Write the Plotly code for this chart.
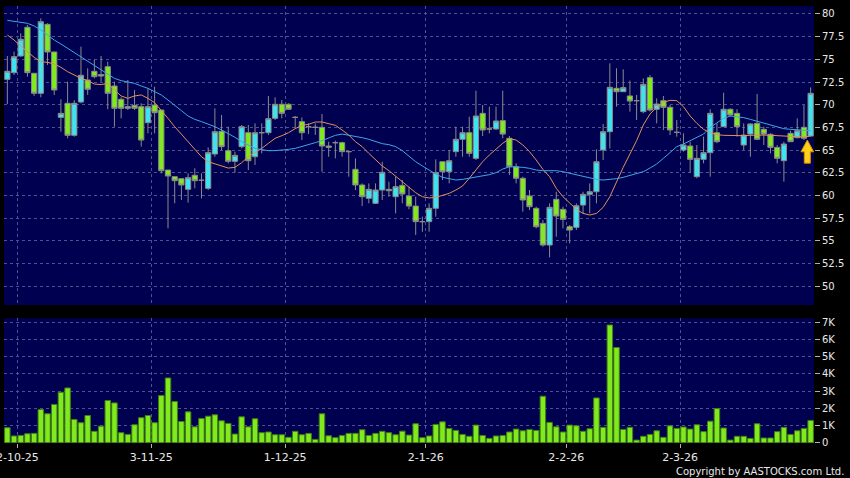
import plotly.graph_objects as go

# ---------------- data (HK trading days) ----------------
dates = [
    "2025-09-30",
    "2025-10-02", "2025-10-03", "2025-10-06", "2025-10-08", "2025-10-09", "2025-10-10",
    "2025-10-13", "2025-10-14", "2025-10-15", "2025-10-16", "2025-10-17", "2025-10-20",
    "2025-10-21", "2025-10-22", "2025-10-23", "2025-10-24", "2025-10-27", "2025-10-28",
    "2025-10-30", "2025-10-31",
    "2025-11-03", "2025-11-04", "2025-11-05", "2025-11-06", "2025-11-07", "2025-11-10",
    "2025-11-11", "2025-11-12", "2025-11-13", "2025-11-14", "2025-11-17", "2025-11-18",
    "2025-11-19", "2025-11-20", "2025-11-21", "2025-11-24", "2025-11-25", "2025-11-26",
    "2025-11-27", "2025-11-28",
    "2025-12-01", "2025-12-02", "2025-12-03", "2025-12-04", "2025-12-05", "2025-12-08",
    "2025-12-09", "2025-12-10", "2025-12-11", "2025-12-12", "2025-12-15", "2025-12-16",
    "2025-12-17", "2025-12-18", "2025-12-19", "2025-12-22", "2025-12-23", "2025-12-24",
    "2025-12-29", "2025-12-30", "2025-12-31",
    "2026-01-02", "2026-01-05", "2026-01-06", "2026-01-07", "2026-01-08", "2026-01-09",
    "2026-01-12", "2026-01-13", "2026-01-14", "2026-01-15", "2026-01-16", "2026-01-19",
    "2026-01-20", "2026-01-21", "2026-01-22", "2026-01-23", "2026-01-26", "2026-01-27",
    "2026-01-28", "2026-01-29", "2026-01-30",
    "2026-02-02", "2026-02-03", "2026-02-04", "2026-02-05", "2026-02-06", "2026-02-09",
    "2026-02-10", "2026-02-11", "2026-02-12", "2026-02-13", "2026-02-16", "2026-02-20",
    "2026-02-23", "2026-02-24", "2026-02-25", "2026-02-26", "2026-02-27",
    "2026-03-02", "2026-03-03", "2026-03-04", "2026-03-05", "2026-03-06", "2026-03-09",
    "2026-03-10", "2026-03-11", "2026-03-12", "2026-03-13", "2026-03-16", "2026-03-17",
    "2026-03-18", "2026-03-19", "2026-03-20", "2026-03-23", "2026-03-24", "2026-03-25",
    "2026-03-26", "2026-03-27", "2026-03-30",
]

open_ = [
    72.79, 73.53, 75.37, 78.53, 73.46, 71.25, 78.86, 75.81, 68.60, 70.15,
    66.62, 70.29, 72.72, 73.68, 73.16, 74.19, 72.06, 70.59, 69.60, 69.93,
    69.78, 68.01, 69.96, 69.41, 62.79, 62.06, 61.84, 60.66, 62.21, 61.66,
    60.77, 64.56, 67.06, 64.93, 63.75, 65.37, 66.91, 64.26, 66.91, 66.91,
    68.49, 70.04, 70.04, 68.60, 68.13, 67.57, 67.50, 67.50, 65.44, 65.81,
    65.81, 64.82, 62.87, 61.14, 59.67, 59.12, 60.59, 60.66, 59.85, 61.10,
    59.93, 58.82, 57.10, 57.10, 58.57, 63.71, 62.61, 64.82, 66.18, 66.91,
    64.08, 69.04, 67.32, 67.32, 68.24, 66.29, 63.16, 61.88, 59.93, 58.57,
    56.91, 54.52, 59.56, 58.46, 56.54, 56.47, 58.93, 60.11, 60.40, 65.00,
    67.02, 71.80, 71.43, 70.96, 70.44, 69.23, 72.98, 69.49, 70.44, 69.71,
    66.95, 65.00, 65.44, 62.06, 63.97, 64.71, 66.91, 67.57, 69.49, 69.04,
    65.55, 66.76, 67.94, 67.28, 66.73, 65.29, 63.82, 66.84, 66.36, 67.50,
    66.54,
]
high = [
    75.37, 75.85, 77.87, 78.79, 73.46, 79.52, 78.97, 75.81, 70.59, 72.54,
    70.51, 76.40, 74.01, 74.93, 75.37, 74.74, 72.54, 70.81, 72.72, 71.62,
    70.15, 71.80, 71.99, 69.41, 62.79, 62.06, 61.84, 62.43, 62.98, 62.43,
    65.29, 69.60, 68.86, 67.57, 64.82, 67.76, 67.76, 67.94, 67.94, 70.96,
    70.81, 70.51, 70.15, 68.75, 68.60, 67.94, 67.94, 68.97, 65.92, 66.03,
    65.92, 64.90, 64.08, 61.32, 61.32, 61.32, 63.71, 61.51, 62.06, 61.69,
    60.96, 59.85, 57.65, 59.12, 63.97, 63.71, 65.00, 67.57, 67.57, 68.68,
    71.54, 69.96, 69.78, 69.78, 71.54, 66.54, 63.53, 62.06, 60.59, 58.75,
    57.28, 59.12, 60.40, 58.75, 56.73, 59.12, 60.40, 61.32, 65.07, 67.87,
    74.56, 74.01, 73.90, 72.65, 71.07, 72.90, 73.27, 70.70, 70.96, 69.96,
    68.31, 66.84, 65.92, 65.55, 66.47, 69.49, 67.94, 71.32, 69.60, 69.49,
    67.94, 67.94, 71.18, 67.57, 66.84, 65.55, 65.92, 67.13, 68.49, 69.96,
    71.91,
]
low = [
    70.07, 73.27, 75.29, 73.09, 70.96, 70.81, 74.38, 71.07, 67.02, 66.29,
    66.47, 70.15, 71.07, 72.90, 72.54, 69.49, 67.57, 68.49, 69.41, 69.41,
    65.37, 66.84, 66.84, 62.43, 56.36, 59.12, 59.49, 59.19, 60.77, 59.67,
    60.59, 64.26, 65.00, 63.53, 62.50, 65.18, 62.79, 63.35, 64.63, 66.65,
    68.31, 68.49, 69.41, 67.39, 66.10, 66.76, 66.65, 62.61, 64.26, 64.08,
    64.26, 62.06, 60.59, 58.82, 59.12, 59.04, 59.49, 59.85, 58.01, 59.12,
    58.46, 55.63, 55.99, 55.99, 57.65, 61.69, 61.32, 64.26, 64.26, 64.26,
    63.90, 66.54, 66.84, 67.21, 66.29, 62.24, 61.32, 58.20, 58.38, 56.36,
    54.34, 53.16, 55.44, 56.36, 54.71, 56.18, 58.01, 58.01, 59.12, 63.90,
    65.18, 69.78, 71.43, 69.23, 68.31, 69.04, 69.23, 67.94, 67.21, 66.65,
    66.47, 64.82, 62.50, 61.88, 63.53, 62.06, 65.74, 67.57, 68.68, 66.47,
    65.00, 64.26, 66.10, 65.55, 64.63, 63.53, 61.51, 65.92, 66.29, 66.10,
    66.54,
]
close = [
    73.68, 75.29, 77.21, 73.53, 71.25, 79.15, 75.81, 71.62, 69.04, 66.62,
    70.15, 73.24, 71.69, 73.09, 73.31, 71.25, 69.60, 69.60, 69.78, 69.60,
    66.10, 69.78, 69.12, 62.72, 62.13, 61.62, 61.14, 61.95, 61.62, 61.66,
    64.71, 67.02, 65.37, 63.75, 64.41, 67.57, 63.82, 66.91, 66.91, 68.46,
    70.04, 69.04, 69.49, 68.60, 66.91, 67.57, 67.50, 65.44, 65.30, 65.81,
    64.82, 64.82, 61.14, 59.85, 60.66, 60.59, 62.54, 60.51, 60.96, 60.15,
    58.82, 57.10, 57.10, 58.57, 62.50, 62.61, 63.82, 66.18, 66.91, 64.63,
    68.75, 67.21, 67.32, 68.20, 66.76, 63.16, 61.88, 59.49, 58.75, 56.54,
    54.52, 58.68, 57.72, 57.35, 56.18, 58.86, 60.11, 60.40, 63.71, 67.02,
    71.91, 71.43, 71.88, 70.40, 70.44, 72.24, 69.41, 70.07, 69.71, 67.21,
    66.95, 65.55, 63.97, 64.08, 64.71, 69.04, 65.92, 69.49, 68.86, 67.57,
    66.65, 67.87, 66.18, 66.76, 65.29, 64.08, 65.66, 65.92, 67.13, 66.29,
    71.25,
]
ma10 = [
    77.68, 77.13, 76.47, 75.85, 75.22, 74.74, 74.67, 74.49, 74.12, 73.64,
    73.27, 72.90, 72.65, 72.28, 72.21, 72.35, 71.62, 70.96, 70.70, 70.96,
    71.07, 70.70, 70.22, 69.41, 68.49, 67.57, 66.76, 65.92, 65.18, 64.26,
    63.71, 63.46, 63.24, 63.01, 63.09, 63.60, 64.26, 64.71, 65.18, 65.74,
    66.29, 66.58, 66.91, 67.35, 67.72, 67.83, 68.09, 68.09, 67.94, 67.72,
    67.21, 66.65, 65.92, 65.37, 64.63, 63.90, 63.24, 62.72, 62.13, 61.51,
    60.96, 60.29, 59.85, 59.71, 59.78, 60.00, 60.22, 60.59, 61.03, 61.88,
    62.79, 63.71, 64.45, 65.07, 65.74, 66.25, 66.10, 65.55, 64.82, 63.90,
    62.87, 62.06, 60.77, 59.85, 59.12, 58.46, 58.01, 57.83, 58.01, 58.68,
    59.85, 61.51, 63.09, 64.56, 66.03, 67.76, 68.97, 69.71, 70.26, 70.48,
    70.44, 69.78, 68.75, 67.94, 67.28, 66.91, 66.69, 66.62, 66.58, 66.58,
    66.58, 66.62, 66.65, 66.65, 66.62, 66.58, 66.54, 66.51, 66.47, 66.43,
    66.54,
]
ma20 = [
    79.30, 79.19, 79.08, 78.97, 78.68, 78.24, 77.68, 77.13, 76.69, 76.21,
    75.77, 75.29, 74.85, 74.38, 73.90, 73.38, 72.90, 72.65, 72.54, 72.35,
    72.06, 71.80, 71.43, 71.07, 70.51, 69.96, 69.34, 68.75, 68.38, 68.13,
    67.87, 67.57, 67.21, 66.84, 66.40, 65.92, 65.55, 65.18, 65.04, 64.93,
    64.93, 64.96, 65.07, 65.18, 65.37, 65.55, 65.81, 66.03, 66.32, 66.62,
    66.76, 66.65, 66.54, 66.36, 66.18, 65.92, 65.70, 65.59, 65.37, 64.93,
    64.34, 63.71, 63.24, 62.79, 62.35, 61.99, 61.80, 61.69, 61.76, 61.88,
    61.99, 62.13, 62.28, 62.50, 62.90, 63.16, 63.16, 63.09, 62.98, 62.79,
    62.72, 62.76, 62.72, 62.61, 62.43, 62.28, 62.10, 61.91, 61.76, 61.69,
    61.73, 61.84, 61.99, 62.21, 62.39, 62.61, 63.01, 63.46, 64.08, 64.71,
    65.37, 65.66, 66.03, 66.40, 66.76, 67.50, 68.01, 68.49, 68.75, 68.68,
    68.57, 68.38, 68.16, 67.94, 67.76, 67.57, 67.35, 67.28, 67.21, 67.13,
    67.13,
]
volume = [
    870, 390, 420, 520, 540, 1930, 1680, 2220, 2930, 3180,
    1350, 1160, 1580, 660, 960, 2450, 2310, 580, 480, 1040,
    1450, 1580, 1160, 2740, 3760, 2390, 1230, 1790, 920, 1410,
    1540, 1620, 1270, 1120, 500, 1500, 920, 1390, 580, 620,
    460, 460, 310, 660, 460, 540, 190, 1680, 400, 290,
    420, 540, 540, 750, 420, 540, 660, 580, 460, 670,
    440, 1100, 290, 390, 1060, 1210, 830, 710, 480, 370,
    1020, 420, 250, 390, 420, 620, 790, 690, 770, 710,
    2700, 1180, 920, 620, 1020, 980, 660, 810, 2600, 890,
    6840, 5530, 770, 890, 150, 370, 480, 690, 310, 980,
    830, 910, 790, 1040, 640, 1250, 1980, 850, 150, 370,
    370, 250, 1100, 270, 270, 640, 890, 480, 690, 830,
    1290,
]

tick_dates = ["2025-10-02", "2025-11-03", "2025-12-01", "2026-01-02", "2026-02-02", "2026-03-02"]
tick_labels = ["2-10-25", "3-11-25", "1-12-25", "2-1-26", "2-2-26", "2-3-26"]
price_ticks = [50, 52.5, 55, 57.5, 60, 62.5, 65, 67.5, 70, 72.5, 75, 77.5, 80]
price_tick_labels = ["50", "52.5", "55", "57.5", "60", "62.5", "65", "67.5", "70", "72.5", "75", "77.5", "80"]
vol_ticks = [0, 1000, 2000, 3000, 4000, 5000, 6000, 7000]
vol_tick_labels = ["0", "1K", "2K", "3K", "4K", "5K", "6K", "7K"]

# ---------------- figure ----------------
idx = list(range(len(dates)))
tick_pos = [dates.index(d) + 0.5 for d in tick_dates]

NAVY = "#000050"
GRID = "#50508e"
CYAN = "#3fe3f0"
LIME = "#80ea1e"
EDGE = "#8a8a8a"
TXT = "#e8e8e8"

fig = go.Figure()
fig.add_trace(go.Candlestick(
    x=idx, open=open_, high=high, low=low, close=close,
    increasing=dict(fillcolor=CYAN, line=dict(color=EDGE, width=1)),
    decreasing=dict(fillcolor=LIME, line=dict(color=EDGE, width=1)),
    whiskerwidth=0, xaxis="x", yaxis="y", showlegend=False, hoverinfo="skip",
))
fig.add_trace(go.Scatter(x=idx, y=ma10, mode="lines", line=dict(color="#e3905c", width=1),
                         xaxis="x", yaxis="y", showlegend=False, hoverinfo="skip"))
fig.add_trace(go.Scatter(x=idx, y=ma20, mode="lines", line=dict(color="#3ea6e6", width=1),
                         xaxis="x", yaxis="y", showlegend=False, hoverinfo="skip"))
fig.add_trace(go.Bar(x=idx, y=volume, width=0.82,
                     marker=dict(color=LIME, line=dict(color="#3f7f10", width=1)),
                     xaxis="x2", yaxis="y2", showlegend=False, hoverinfo="skip"))

# yellow arrow marker at last bar
last = len(dates) - 1
fig.add_shape(type="path",
              path=(f"M {last - 0.5},66.1 L {last + 0.45},64.8 L {last - 0.05},64.8 "
                    f"L {last - 0.05},63.55 L {last - 0.95},63.55 L {last - 0.95},64.8 "
                    f"L {last - 1.45},64.8 Z"),
              xref="x", yref="y", fillcolor="#ffcf1a", line=dict(color="#d98c00", width=1))

fig.add_annotation(text="Copyright by AASTOCKS.com Ltd.", xref="paper", yref="paper",
                   x=1.0, y=0, xanchor="right", yanchor="top", yshift=-21, xshift=32,
                   showarrow=False, font=dict(family="DejaVu Sans", size=10, color=TXT))

fig.update_layout(
    width=850, height=478,
    margin=dict(l=4, r=36, t=6, b=35, autoexpand=False),
    paper_bgcolor="black", plot_bgcolor=NAVY,
    font=dict(family="DejaVu Sans", color=TXT, size=11),
    showlegend=False,
    boxgap=0.22, boxgroupgap=0,
    xaxis=dict(domain=[0, 1], anchor="y", range=[-0.5, len(dates) - 0.5],
               tickvals=tick_pos, ticktext=tick_labels, showticklabels=False, ticks="",
               showgrid=True, gridcolor=GRID, griddash="3px,3px", gridwidth=1,
               zeroline=False, rangeslider=dict(visible=False), fixedrange=True),
    yaxis=dict(domain=[0.3158, 1], anchor="x", side="right", range=[47.91, 80.88],
               tickvals=price_ticks, ticktext=price_tick_labels,
               ticks="outside", ticklen=5, tickcolor="#b0b0b0",
               tickfont=dict(size=10, color=TXT),
               showgrid=True, gridcolor=GRID, griddash="3px,3px", zeroline=False),
    xaxis2=dict(domain=[0, 1], anchor="y2", matches="x", range=[-0.5, len(dates) - 0.5],
                tickvals=tick_pos, ticktext=tick_labels, ticks="outside", ticklen=4,
                tickcolor="#b0b0b0", tickfont=dict(size=11, color=TXT),
                ticklabeloverflow="allow",
                showgrid=True, gridcolor=GRID, griddash="3px,3px", zeroline=False),
    yaxis2=dict(domain=[0, 0.2854], anchor="x2", side="right", range=[-20, 7230],
                tickvals=vol_ticks, ticktext=vol_tick_labels,
                ticks="outside", ticklen=5, tickcolor="#b0b0b0",
                tickfont=dict(size=10, color=TXT),
                showgrid=True, gridcolor=GRID, griddash="3px,3px", zeroline=False),
    bargap=0.18,
)

fig.write_html("out.html", config={"displayModeBar": False},
               post_script="document.body.style.margin='0px';")
